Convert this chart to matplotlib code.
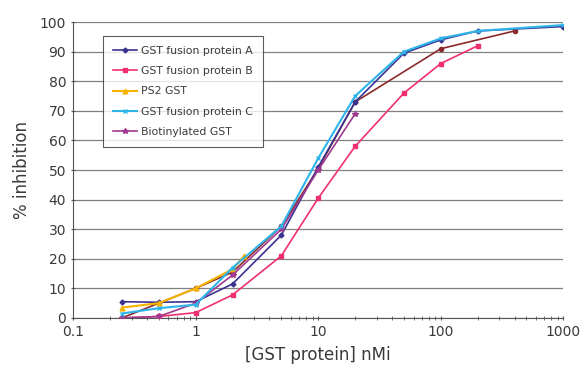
import matplotlib
matplotlib.use("Agg")
import matplotlib.pyplot as plt
from matplotlib.ticker import LogLocator, NullFormatter, FixedLocator

# 数据
x_std = [0.25, 0.5, 1, 2, 5, 10, 20, 50, 100, 200, 1000]
a_vals = [5.5, 5.3, 5.5, 11.5, 28, 51, 73, 89.5, 94, 97, 98.5]
c_vals = [1.5, 3.3, 4.5, 17, 31, 54, 75, 90, 94.5, 97, 99]

x_b = [0.25, 0.5, 1, 2, 5, 10, 20, 50, 100, 200]
b_vals = [0, 0.5, 1.8, 7.8, 21, 40.5, 58, 76, 86, 92]

x_ps2 = [0.25, 0.5, 1, 2, 2.5]
ps2_vals = [3.5, 5, 10, 16.5, 21]

x_bio = [0.25, 0.5, 1, 2, 5, 10, 20]
bio_vals = [0, 0.5, 5, 14.5, 30, 50, 69]

x_brown = [0.25, 0.5, 1, 2, 5, 10, 20, 100, 400]
brown_vals = [0, 5, 10, 15.5, 31, 50.5, 73, 91, 97]

text_color = "#3a3a3a"

fig = plt.figure(figsize=(5.85, 3.68), dpi=100)
ax = fig.add_axes([0.125, 0.136, 0.838, 0.804])

# 画线（ Excel 风格）
ax.plot(x_brown, brown_vals, color="#8B2A2A", marker="o", ms=3, lw=1.2, zorder=3)
ax.plot(x_std, c_vals, color="#2FB4E9", marker="x", ms=3.5, lw=1.5, label="GST fusion protein C", zorder=4)
ax.plot(x_std, a_vals, color="#3A3290", marker="D", ms=2.5, lw=1.2, label="GST fusion protein A", zorder=3)
ax.plot(x_b, b_vals, color="#F0306E", marker="s", ms=3, lw=1.2, label="GST fusion protein B", zorder=3)
ax.plot(x_ps2, ps2_vals, color="#F5B400", marker="^", ms=3.5, lw=1.5, label="PS2 GST", zorder=3)
ax.plot(x_bio, bio_vals, color="#A03A8E", marker="*", ms=4, lw=1.2, label="Biotinylated GST", zorder=3)

ax.set_xscale("log")
ax.set_xlim(0.1, 1000)
ax.set_ylim(0, 100)
ax.set_yticks(range(0, 101, 10))
ax.xaxis.set_major_locator(FixedLocator([0.1, 1, 10, 100, 1000]))
ax.set_xticklabels(["0.1", "1", "10", "100", "1000"])
ax.xaxis.set_minor_locator(LogLocator(base=10, subs=range(2, 10)))
ax.xaxis.set_minor_formatter(NullFormatter())

ax.grid(axis="y", color="#808080", lw=0.9)
ax.set_axisbelow(True)
for side in ["top", "right"]:
    ax.spines[side].set_visible(False)
for side in ["left", "bottom"]:
    ax.spines[side].set_color("#555555")

ax.tick_params(axis="both", colors="#555555", labelcolor=text_color, labelsize=10, length=3, direction="inout")
ax.tick_params(axis="x", which="minor", length=3, direction="inout", colors="#555555")

ax.set_ylabel("% inhibition", fontsize=12, color=text_color, labelpad=6)
ax.set_xlabel("[GST protein] nMi", fontsize=12, color=text_color, labelpad=5)

# 图例顺序与原图一致
handles, labels = ax.get_legend_handles_labels()
order = ["GST fusion protein A", "GST fusion protein B", "PS2 GST", "GST fusion protein C", "Biotinylated GST"]
hl = dict(zip(labels, handles))
leg = fig.legend([hl[k] for k in order], order, loc="upper left",
                 bbox_to_anchor=(0.176, 0.902), borderaxespad=0, fontsize=7.8,
                 frameon=True, fancybox=False, edgecolor="#333333", borderpad=0.9,
                 labelspacing=0.95, handlelength=2.2, handletextpad=0.4)
leg.get_frame().set_linewidth(0.8)
for t in leg.get_texts():
    t.set_color(text_color)

plt.savefig("out.png", dpi=100, facecolor="white")
plt.close()
